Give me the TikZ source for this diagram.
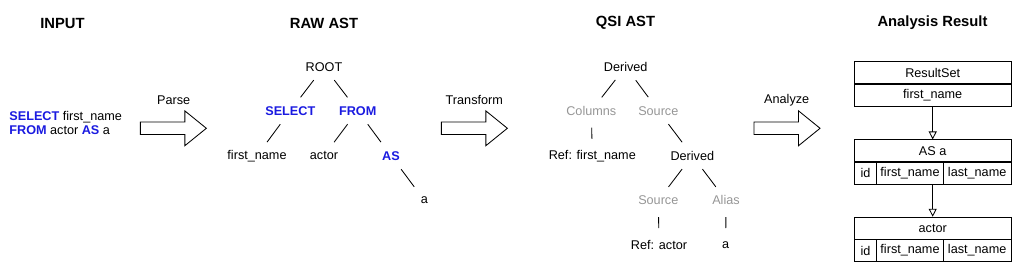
\documentclass[tikz,border=0pt]{standalone}
\usepackage{fontspec}
\setmainfont{Liberation Sans}
\usepackage{xcolor}
\usetikzlibrary{arrows.meta,shapes.arrows}

\definecolor{kwblue}{RGB}{26,26,224}
\definecolor{fieldgray}{RGB}{150,150,150}
\newcommand{\sqlkw}[1]{\textcolor{kwblue}{\textbf{#1}}}

\begin{document}
\begin{tikzpicture}[
  x=0.025cm, y=-0.025cm,
  title/.style={font=\fontsize{10.5}{12}\selectfont\bfseries},
  leaf/.style={font=\fontsize{9}{11}\selectfont},
  kw/.style={text=kwblue, font=\fontsize{9}{11}\selectfont\bfseries},
  field/.style={leaf, text=fieldgray},
  branch/.style={shorten <=12pt, shorten >=12pt},
  flow/.style={draw, single arrow, inner xsep=0, inner ysep=0.145cm,
    minimum height=1.65cm, single arrow head extend=0.28cm,
    single arrow tip angle=78},
  cell/.style={draw, inner sep=0, minimum height=0.555cm,
    font=\fontsize{9}{11}\selectfont},
  line width=0.6pt
]
\useasboundingbox (0,0) rectangle (1024,273);

% headings
\node[title] (tinput) at (62.5,23) {INPUT};
\node[title] (traw) at (324,23) {RAW AST};
\node[title] (tqsi) at (625.5,23) {QSI AST};
\node[title] (tresult) at (932.5,23) {Analysis Result};

% input
\node[leaf, align=left, anchor=west, inner sep=0,
  font=\fontsize{9}{10.2}\selectfont] (query) at (9,123)
  {\sqlkw{SELECT} first\_name\\ \sqlkw{FROM} actor \sqlkw{AS} a};

% stage arrows
\node[flow] (parse) at (169.5,128.3) {};
\node[leaf] (parselbl) at (173.7,100) {Parse};
\node[flow] (transform) at (470.5,128.3) {};
\node[leaf] (transformlbl) at (474.3,100) {Transform};
\node[flow] (analyze) at (783.2,128.3) {};
\node[leaf] (analyzelbl) at (786.7,100) {Analyze};

% raw ast
\node[leaf] (root) at (324,66.7) {ROOT};
\node[kw] (select) at (290.3,110.7) {SELECT};
\node[kw] (from) at (357.7,110.7) {FROM};
\node[leaf] (rawcol) at (257,155.7) {first\_name};
\node[leaf] (rawtbl) at (324,155.7) {actor};
\node[kw] (as) at (391,155.7) {AS};
\node[leaf] (rawalias) at (424.3,200.3) {a};

\draw[branch] (root.center) -- (select.center);
\draw[branch] (root.center) -- (from.center);
\draw[branch] (select.center) -- (rawcol.center);
\draw[branch] (from.center) -- (rawtbl.center);
\draw[branch] (from.center) -- (as.center);
\draw[branch] (as.center) -- (rawalias.center);

% qsi ast
\node[leaf] (derived) at (625.7,66.7) {Derived};
\node[field] (columns) at (591.3,110.7) {Columns};
\node[field] (source) at (658.3,110.7) {Source};
\node[leaf] (refcol) at (592.3,155.7) {Ref: first\_name};
\node[leaf] (subderived) at (692.3,155.7) {Derived};
\node[field] (subsource) at (658.3,200.3) {Source};
\node[field] (alias) at (726,200.3) {Alias};
\node[leaf] (reftbl) at (659,245) {Ref: actor};
\node[leaf] (aliasname) at (725.7,245) {a};

\draw[branch] (derived.center) -- (columns.center);
\draw[branch] (derived.center) -- (source.center);
\draw[branch] (columns.center) -- (refcol.center);
\draw[branch] (source.center) -- (subderived.center);
\draw[branch] (subderived.center) -- (subsource.center);
\draw[branch] (subderived.center) -- (alias.center);
\draw[branch] (subsource.center) -- (reftbl.center);
\draw[branch] (alias.center) -- (aliasname.center);

% analysis result
\node[cell, minimum width=3.9175cm] (rsname) at (932.7,72.85) {ResultSet};
\node[cell, minimum width=3.9175cm] (rsfield) at (932.7,95) {first\_name};

\node[cell, minimum width=3.9175cm] (asname) at (932.7,151) {AS a};
\node[cell, minimum width=0.56cm] (asid) at (865.5,173) {id};
\node[cell, minimum width=1.665cm] (asfirst) at (910,173) {first\_name};
\node[cell, minimum width=1.6925cm] (aslast) at (977.15,173) {last\_name};

\node[cell, minimum width=3.9175cm] (actname) at (932.7,228.3) {actor};
\node[cell, minimum width=0.56cm] (actid) at (865.5,250.5) {id};
\node[cell, minimum width=1.665cm] (actfirst) at (910,250.5) {first\_name};
\node[cell, minimum width=1.6925cm] (actlast) at (977.15,250.5) {last\_name};

\draw[-{Triangle[open,length=5.7pt,width=5.7pt]}] (rsfield) -- (asname);
\draw[-{Triangle[open,length=5.7pt,width=5.7pt]}] (asfirst.south -| asname) -- (actname);
\end{tikzpicture}
\end{document}
